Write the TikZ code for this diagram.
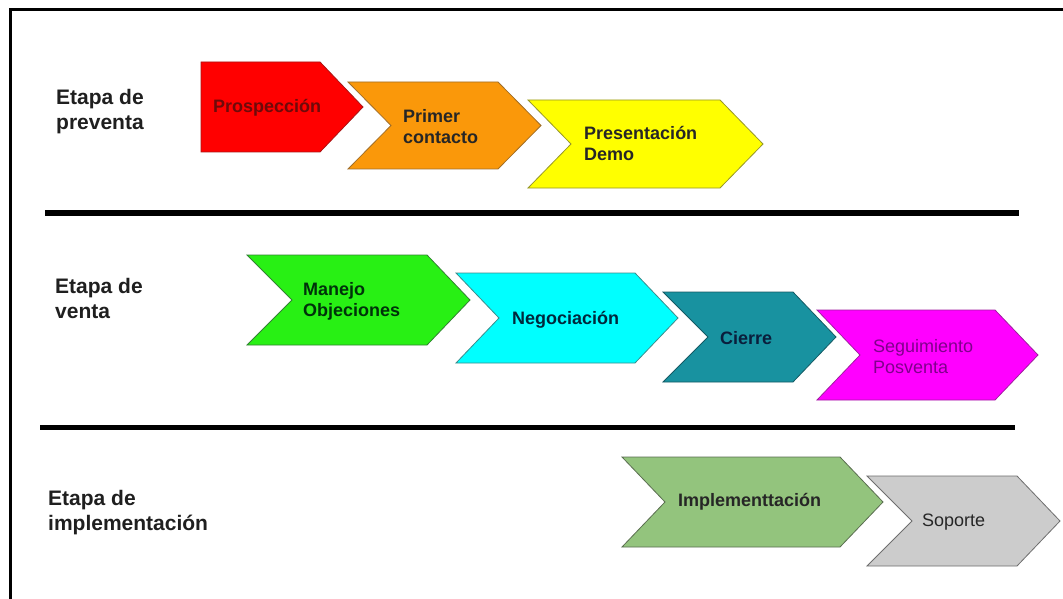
\documentclass[tikz,border=0pt]{standalone}
\usepackage{fontspec}
\setmainfont{Liberation Sans}

% stage colours
\definecolor{prosFill}{RGB}{255,0,0}
\definecolor{prosEdge}{RGB}{170,20,20}
\definecolor{prosText}{RGB}{110,10,10}
\definecolor{primFill}{RGB}{250,152,10}
\definecolor{primEdge}{RGB}{160,110,40}
\definecolor{presFill}{RGB}{255,255,0}
\definecolor{presEdge}{RGB}{150,150,40}
\definecolor{manFill}{RGB}{40,240,20}
\definecolor{manEdge}{RGB}{50,130,50}
\definecolor{manText}{RGB}{0,50,10}
\definecolor{negFill}{RGB}{0,255,255}
\definecolor{negEdge}{RGB}{60,140,140}
\definecolor{negText}{RGB}{0,40,60}
\definecolor{cieFill}{RGB}{24,146,160}
\definecolor{cieEdge}{RGB}{20,90,100}
\definecolor{cieText}{RGB}{10,30,60}
\definecolor{segFill}{RGB}{255,0,255}
\definecolor{segEdge}{RGB}{160,30,160}
\definecolor{segText}{RGB}{128,0,140}
\definecolor{impFill}{RGB}{147,196,125}
\definecolor{impEdge}{RGB}{90,110,80}
\definecolor{supFill}{RGB}{204,204,204}
\definecolor{supEdge}{RGB}{110,110,110}

% chevron: fill, edge, left x, top y, right x, bottom y, notch depth
\newcommand{\stepchevron}[7]{%
  \filldraw[fill=#1, draw=#2, shape edge]
    (#3,#4) -- (#5,#4) -- ({#5+43},{(#4+#6)/2}) -- (#5,#6) -- (#3,#6)
    -- ({#3+#7},{(#4+#6)/2}) -- cycle;}

\begin{document}
\begin{tikzpicture}[x=1pt,y=-1pt,
  shape edge/.style={line width=0.8pt, line join=miter},
  stage label/.style={font=\fontsize{21}{25}\selectfont\bfseries, align=left,
    anchor=west, inner sep=0pt, text=black!88},
  step text/.style={font=\fontsize{18}{21}\selectfont\bfseries, align=left,
    anchor=west, inner sep=0pt},
  plain text/.style={font=\fontsize{18}{21}\selectfont, align=left,
    anchor=west, inner sep=0pt},
  divider/.style={line width=6pt},
  frame/.style={line width=3pt}]

\useasboundingbox (0,0) rectangle (1063,599);
\fill[white] (0,0) rectangle (1063,599);

% outer frame (top and left edges)
\coordinate (frameTL) at (10,10);
\coordinate (frameTR) at (1063,10);
\coordinate (frameBL) at (10,599);
\draw[frame] (frameTR) -- (frameTL) -- (frameBL);

% section dividers
\coordinate (divAL) at (45,213);
\coordinate (divAR) at (1019,213);
\coordinate (divBL) at (40,427);
\coordinate (divBR) at (1015,427);
\draw[divider] (divAL) -- (divAR);
\draw[divider, line width=5pt] (divBL) -- (divBR);

% stage labels
\node[stage label] (lblPre) at (56,112) {Etapa de\\preventa};
\node[stage label] (lblVen) at (55,298) {Etapa de\\venta};
\node[stage label] (lblImp) at (48,513) {Etapa de\\implementación};

% pre-sale steps
\stepchevron{prosFill}{prosEdge}{201}{62}{320}{152}{0}
\stepchevron{primFill}{primEdge}{348}{82}{498}{169}{43}
\stepchevron{presFill}{presEdge}{528}{100}{720}{188}{43}
\node[step text, text=prosText] (pros) at (213,108) {Prospección};
\node[step text, text=black!85] (prim) at (403,127) {Primer\\contacto};
\node[step text, text=black!85] (pres) at (584,143) {Presentación\\Demo};

% sale steps
\stepchevron{manFill}{manEdge}{247}{255}{427}{345}{45}
\stepchevron{negFill}{negEdge}{456}{273}{635}{363}{43}
\stepchevron{cieFill}{cieEdge}{663}{292}{793}{382}{45}
\stepchevron{segFill}{segEdge}{817}{310}{995}{400}{43}
\node[step text, text=manText] (man) at (303,301) {Manejo\\Objeciones};
\node[step text, text=negText] (neg) at (512,320) {Negociación};
\node[step text, text=cieText] (cie) at (720,338) {Cierre};
\node[plain text, text=segText] (seg) at (873,357) {Seguimiento\\Posventa};

% implementation steps
\stepchevron{impFill}{impEdge}{622}{457}{840}{547}{43}
\stepchevron{supFill}{supEdge}{867}{476}{1017}{566}{45}
\node[step text, text=black!85] (imp) at (678,502) {Implementtación};
\node[plain text, text=black!85] (sup) at (922,522) {Soporte};

\end{tikzpicture}
\end{document}
